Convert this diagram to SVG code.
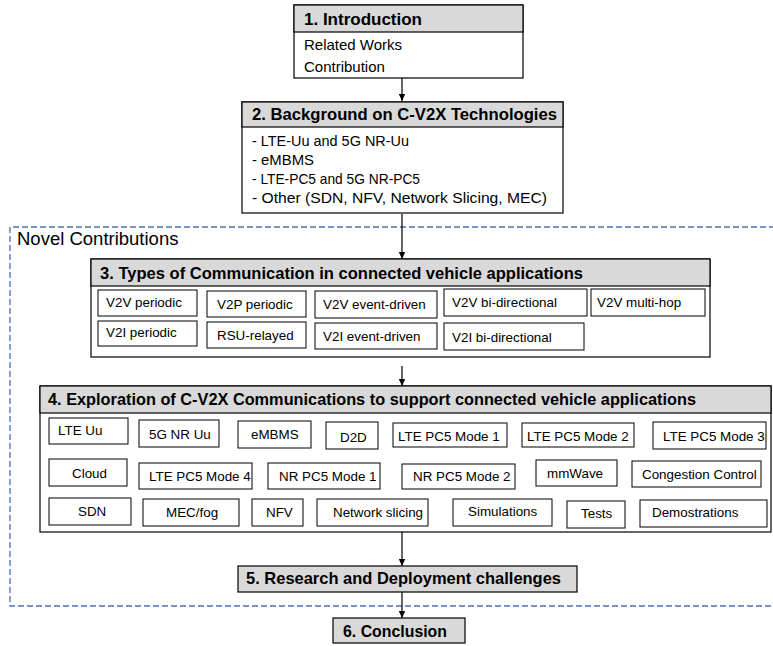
<svg xmlns="http://www.w3.org/2000/svg" width="773" height="646" viewBox="0 0 773 646">
<defs>
<marker id="ah" markerWidth="8" markerHeight="8" refX="7" refY="4" orient="auto" markerUnits="userSpaceOnUse">
<path d="M0,0.8 L7,4 L0,7.2 z" fill="#000"/>
</marker>
<style>
.box{fill:#fff;stroke:#000;stroke-width:1.2}
.hdr{fill:#d9d9d9;stroke:#000;stroke-width:1.2}
.it{fill:#fff;stroke:#000;stroke-width:1}
.ht{font-family:"Liberation Sans",Arial,sans-serif;font-weight:bold;font-size:17px;fill:#000}
.lt{font-family:"Liberation Sans",Arial,sans-serif;font-size:15px;fill:#000}
.st{font-family:"Liberation Sans",Arial,sans-serif;font-size:13.4px;fill:#000}
.nc{font-family:"Liberation Sans",Arial,sans-serif;font-size:18.5px;fill:#000}
.cn{stroke:#000;stroke-width:1.2;fill:none;marker-end:url(#ah)}
</style>
</defs>
<rect width="773" height="646" fill="#fff"/>

<g id="novel-contributions">
<path d="M775,227 H10 V606 H775" fill="none" stroke="#4a72b8" stroke-width="1.3" stroke-dasharray="6,3"/>
<text class="nc" x="17" y="245">Novel Contributions</text>
</g>

<g id="connectors">
<line class="cn" x1="402" y1="78" x2="402" y2="101"/>
<line class="cn" x1="402" y1="214" x2="402" y2="259"/>
<line class="cn" x1="402" y1="366" x2="402" y2="386"/>
<line class="cn" x1="402" y1="532" x2="402" y2="566"/>
<line class="cn" x1="402" y1="592" x2="402" y2="618"/>
</g>

<g id="n1">
<rect class="box" x="294" y="5" width="229" height="73"/>
<rect class="hdr" x="294" y="5" width="229" height="27"/>
<text class="ht" x="304" y="25" textLength="118" lengthAdjust="spacingAndGlyphs">1. Introduction</text>
<text class="lt" x="304" y="50">Related Works</text>
<text class="lt" x="304" y="72">Contribution</text>
</g>

<g id="n2">
<rect class="box" x="242" y="102" width="321" height="111"/>
<rect class="hdr" x="242" y="102" width="321" height="25"/>
<text class="ht" x="252" y="120" textLength="305" lengthAdjust="spacingAndGlyphs">2. Background on C-V2X Technologies</text>
<text class="lt" x="252" y="146" textLength="157" lengthAdjust="spacingAndGlyphs">- LTE-Uu and 5G NR-Uu</text>
<text class="lt" x="252" y="165" textLength="62" lengthAdjust="spacingAndGlyphs">- eMBMS</text>
<text class="lt" x="252" y="184" textLength="168" lengthAdjust="spacingAndGlyphs">- LTE-PC5 and 5G NR-PC5</text>
<text class="lt" x="252" y="203" textLength="295" lengthAdjust="spacingAndGlyphs">- Other (SDN, NFV, Network Slicing, MEC)</text>
</g>

<g id="n3">
<rect class="box" x="91" y="259" width="619" height="98"/>
<rect class="hdr" x="91" y="259" width="619" height="27"/>
<text class="ht" x="100" y="279" textLength="483" lengthAdjust="spacingAndGlyphs">3. Types of Communication in connected vehicle applications</text>
<rect class="it" x="98" y="290" width="99" height="26"/><text class="st" x="106" y="307">V2V periodic</text>
<rect class="it" x="207" y="291" width="99" height="26"/><text class="st" x="217" y="309">V2P periodic</text>
<rect class="it" x="315" y="291" width="122" height="27"/><text class="st" x="323" y="309">V2V event-driven</text>
<rect class="it" x="444" y="289" width="143" height="27"/><text class="st" x="452" y="307">V2V bi-directional</text>
<rect class="it" x="591" y="289" width="114" height="27"/><text class="st" x="597" y="307">V2V multi-hop</text>
<rect class="it" x="98" y="321" width="99" height="25"/><text class="st" x="106" y="337">V2I periodic</text>
<rect class="it" x="207" y="322" width="99" height="26"/><text class="st" x="217" y="340">RSU-relayed</text>
<rect class="it" x="315" y="323" width="122" height="26"/><text class="st" x="323" y="341">V2I event-driven</text>
<rect class="it" x="444" y="323" width="140" height="27"/><text class="st" x="452" y="342">V2I bi-directional</text>
</g>

<g id="n4">
<rect class="box" x="40" y="386" width="731" height="146"/>
<rect class="hdr" x="40" y="386" width="731" height="27"/>
<text class="ht" x="48" y="405" textLength="648" lengthAdjust="spacingAndGlyphs">4. Exploration of C-V2X Communications to support connected vehicle applications</text>
<rect class="it" x="49" y="418" width="79" height="26"/><text class="st" x="58" y="435">LTE Uu</text>
<rect class="it" x="139" y="420" width="80" height="27"/><text class="st" x="149" y="439">5G NR Uu</text>
<rect class="it" x="238" y="421" width="73" height="27"/><text class="st" x="251" y="439">eMBMS</text>
<rect class="it" x="326" y="422" width="52" height="27"/><text class="st" x="340" y="442">D2D</text>
<rect class="it" x="393" y="423" width="114" height="24"/><text class="st" x="398" y="441">LTE PC5 Mode 1</text>
<rect class="it" x="522" y="423" width="112" height="24"/><text class="st" x="527" y="441">LTE PC5 Mode 2</text>
<rect class="it" x="653" y="422" width="113" height="27"/><text class="st" x="663" y="441">LTE PC5 Mode 3</text>
<rect class="it" x="49" y="459" width="78" height="27"/><text class="st" x="72" y="478">Cloud</text>
<rect class="it" x="139" y="463" width="113" height="26"/><text class="st" x="149" y="481">LTE PC5 Mode 4</text>
<rect class="it" x="268" y="463" width="112" height="26"/><text class="st" x="279" y="481">NR PC5 Mode 1</text>
<rect class="it" x="402" y="464" width="113" height="25"/><text class="st" x="413" y="481">NR PC5 Mode 2</text>
<rect class="it" x="536" y="460" width="81" height="26"/><text class="st" x="547" y="478">mmWave</text>
<rect class="it" x="632" y="461" width="129" height="26"/><text class="st" x="642" y="479">Congestion Control</text>
<rect class="it" x="49" y="498" width="82" height="27"/><text class="st" x="78" y="516">SDN</text>
<rect class="it" x="143" y="499" width="96" height="27"/><text class="st" x="166" y="517">MEC/fog</text>
<rect class="it" x="252" y="499" width="51" height="27"/><text class="st" x="266" y="517">NFV</text>
<rect class="it" x="317" y="499" width="111" height="27"/><text class="st" x="333" y="517">Network slicing</text>
<rect class="it" x="453" y="499" width="99" height="27"/><text class="st" x="468" y="516">Simulations</text>
<rect class="it" x="567" y="501" width="58" height="27"/><text class="st" x="581" y="518">Tests</text>
<rect class="it" x="640" y="500" width="127" height="27"/><text class="st" x="652" y="517">Demostrations</text>
</g>

<g id="n5">
<rect class="hdr" x="238" y="566" width="339" height="26"/>
<text class="ht" x="246" y="584" textLength="315" lengthAdjust="spacingAndGlyphs">5. Research and Deployment challenges</text>
</g>

<g id="n6">
<rect class="hdr" x="333" y="618" width="132" height="25"/>
<text class="ht" x="343" y="637" textLength="104" lengthAdjust="spacingAndGlyphs">6. Conclusion</text>
</g>
</svg>
